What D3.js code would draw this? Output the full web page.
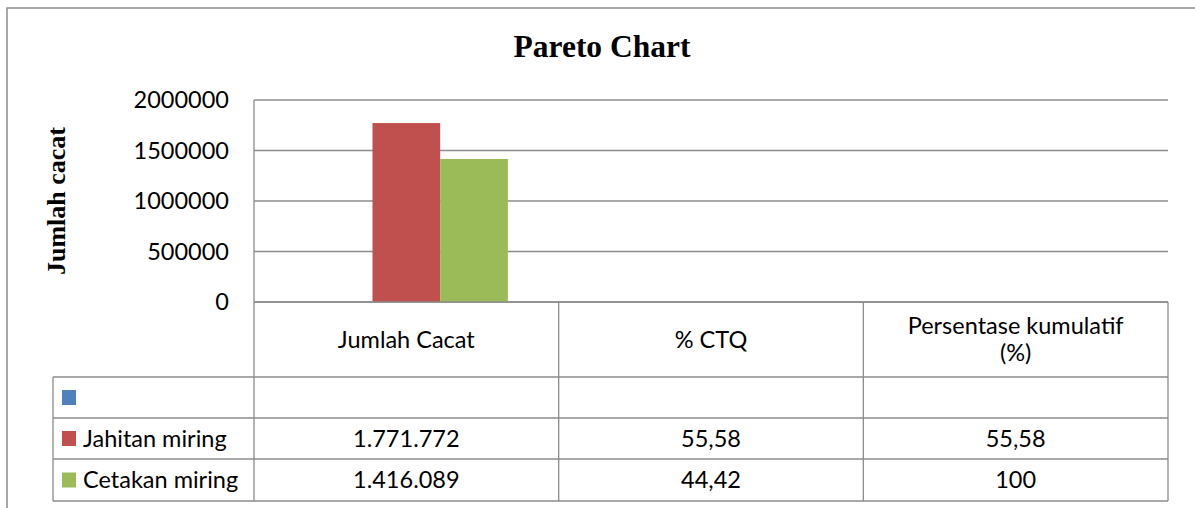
<!DOCTYPE html>
<html>
<head>
<meta charset="utf-8">
<script src="https://cdn.jsdelivr.net/npm/d3@7"></script>
<style>
  body { margin: 0; background: #fff; }
  svg { display: block; }
  .sans { font-family: Lato, "Open Sans", sans-serif; }
  .serif { font-family: "Liberation Serif", "Times New Roman", serif; font-weight: bold; }
</style>
</head>
<body>
<script>
// data
var categories = ["Jumlah Cacat", "% CTQ", "Persentase kumulatif (%)"];
var seriesNames = ["", "Jahitan miring", "Cetakan miring"];
var seriesColors = ["#4F81BD", "#C0504D", "#9BBB59"];
var jumlahCacat = [null, 1771772, 1416089];
var persenCTQ = [null, 55.58, 44.42];
var persenKumulatif = [null, 55.58, 100];
var yTicks = [0, 500000, 1000000, 1500000, 2000000];

var w = 1195, h = 508;
var plot = {left: 254, right: 1168, top: 100, bottom: 302};
var rowLines = [302, 377, 418, 459, 501];
var legendLeft = 53;
var gridColor = "#8c8c8c";
var tableFont = 23.5;

var idLocale = d3.formatLocale({decimal: ",", thousands: ".", grouping: [3], currency: ["Rp", ""]});
var fmtCount = idLocale.format(",d");
var fmtPct = idLocale.format(",.2~f");

var svg = d3.select("body").append("svg").attr("width", w).attr("height", h);

// outer frame
svg.append("rect").attr("x", 7).attr("y", 8).attr("width", w).attr("height", h)
  .attr("fill", "none").attr("stroke", gridColor).attr("stroke-width", 1.5);

svg.append("text").attr("class", "serif").attr("x", 602).attr("y", 57)
  .attr("text-anchor", "middle").attr("font-size", 31.5).text("Pareto Chart");

var y = d3.scaleLinear().domain([0, 2000000]).range([plot.bottom, plot.top]);
var x0 = d3.scaleBand().domain(categories).range([plot.left, plot.right]);
var x1 = d3.scaleBand().domain(seriesNames).range([0, x0.bandwidth()]).paddingOuter(0.75);

// gridlines
svg.append("g").selectAll("line").data(yTicks).enter().append("line")
  .attr("x1", plot.left).attr("x2", plot.right)
  .attr("y1", function(d){ return y(d); }).attr("y2", function(d){ return y(d); })
  .attr("stroke", gridColor).attr("stroke-width", 1.3);

// y axis labels
svg.append("g").selectAll("text").data(yTicks).enter().append("text")
  .attr("class", "sans").attr("font-size", 23.5)
  .attr("x", 229).attr("y", function(d){ return y(d); }).attr("dy", "0.35em")
  .attr("text-anchor", "end").text(function(d){ return d3.format("d")(d); });

svg.append("text").attr("class", "serif").attr("font-size", 26)
  .attr("transform", "translate(65," + ((plot.top + plot.bottom) / 2) + ") rotate(-90)")
  .attr("text-anchor", "middle").text("Jumlah cacat");

// bars
var values = [jumlahCacat, persenCTQ, persenKumulatif];
var bars = [];
categories.forEach(function(c, ci){
  seriesNames.forEach(function(s, si){
    if (values[ci][si] != null) bars.push({cat: c, ser: s, idx: si, v: values[ci][si]});
  });
});
svg.append("g").selectAll("rect").data(bars).enter().append("rect")
  .attr("x", function(d){ return x0(d.cat) + x1(d.ser); })
  .attr("width", x1.bandwidth())
  .attr("y", function(d){ return y(d.v); })
  .attr("height", function(d){ return y(0) - y(d.v); })
  .attr("fill", function(d){ return seriesColors[d.idx]; });

// data table
var tbl = svg.append("g").attr("stroke", gridColor).attr("stroke-width", 1.3);
tbl.append("line").attr("x1", plot.left).attr("x2", plot.left).attr("y1", plot.top).attr("y2", rowLines[4]);
categories.forEach(function(c){
  var xr = x0(c) + x0.bandwidth();
  tbl.append("line").attr("x1", xr).attr("x2", xr).attr("y1", rowLines[0]).attr("y2", rowLines[4]);
});
tbl.append("line").attr("x1", legendLeft).attr("x2", legendLeft).attr("y1", rowLines[1]).attr("y2", rowLines[4]);
rowLines.forEach(function(ry, i){
  tbl.append("line").attr("x1", i === 0 ? plot.left : legendLeft).attr("x2", plot.right)
    .attr("y1", ry).attr("y2", ry);
});

// header
var headers = [["Jumlah Cacat"], ["% CTQ"], ["Persentase kumulatif", "(%)"]];
categories.forEach(function(c, ci){
  var cx = x0(c) + x0.bandwidth() / 2;
  var lines = headers[ci];
  var cy = (rowLines[0] + rowLines[1]) / 2;
  lines.forEach(function(t, li){
    svg.append("text").attr("class", "sans").attr("font-size", tableFont)
      .attr("x", cx).attr("y", cy + (li - (lines.length - 1) / 2) * 27).attr("dy", "0.35em")
      .attr("text-anchor", "middle").text(t);
  });
});

// legend rows + values
seriesNames.forEach(function(s, si){
  var cy = (rowLines[si + 1] + rowLines[si + 2]) / 2;
  svg.append("rect").attr("x", 62).attr("y", cy - 7.5).attr("width", 14).attr("height", 15)
    .attr("fill", seriesColors[si]);
  svg.append("text").attr("class", "sans").attr("font-size", tableFont)
    .attr("x", 83).attr("y", cy).attr("dy", "0.35em").text(s);
  var cells = [jumlahCacat[si], persenCTQ[si], persenKumulatif[si]];
  categories.forEach(function(c, ci){
    if (cells[ci] == null) return;
    svg.append("text").attr("class", "sans").attr("font-size", tableFont)
      .attr("x", x0(c) + x0.bandwidth() / 2).attr("y", cy).attr("dy", "0.35em")
      .attr("text-anchor", "middle").text(ci === 0 ? fmtCount(cells[ci]) : fmtPct(cells[ci]));
  });
});
</script>
</body>
</html>
